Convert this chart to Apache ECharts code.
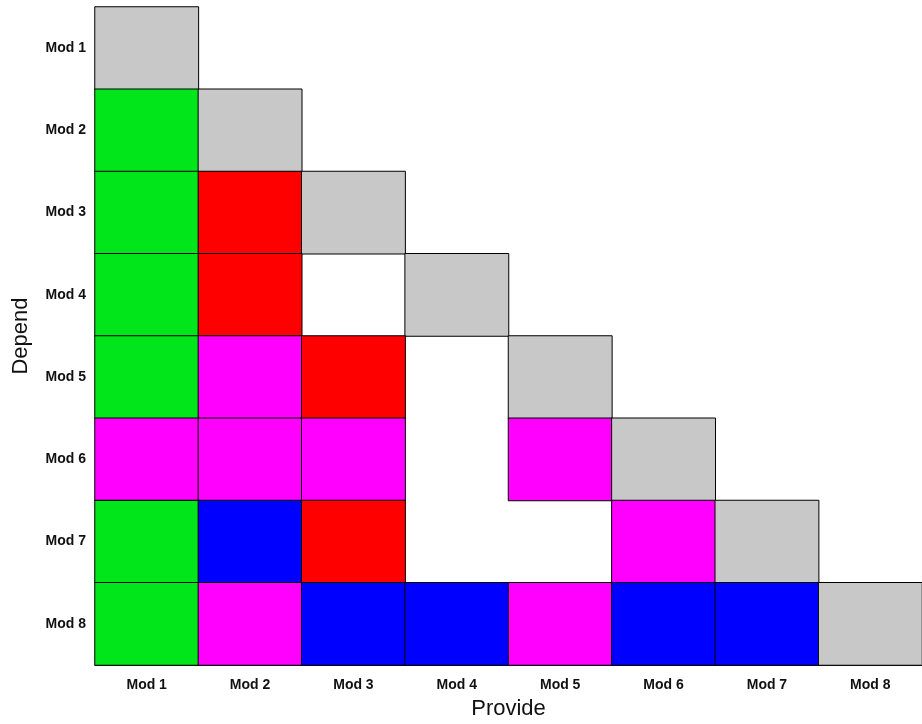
<!DOCTYPE html>
<html><head><meta charset="utf-8">
<script src="https://cdn.jsdelivr.net/npm/echarts@6/dist/echarts.min.js"></script>
<style>html,body{margin:0;padding:0;background:#fff}#c{width:922px;height:724px}</style>
</head><body><div id="c"></div>
<script>
const categories = ['Mod 1','Mod 2','Mod 3','Mod 4','Mod 5','Mod 6','Mod 7','Mod 8'];
// codes: 0 = self (grey), 1 = green, 2 = red, 3 = magenta, 4 = blue, null = none
const rowMod1 = [0];
const rowMod2 = [1,0];
const rowMod3 = [1,2,0];
const rowMod4 = [1,2,null,0];
const rowMod5 = [1,3,2,null,0];
const rowMod6 = [3,3,3,null,3,0];
const rowMod7 = [1,4,2,null,null,3,0];
const rowMod8 = [1,3,4,4,3,4,4,0];
const rows = [rowMod1,rowMod2,rowMod3,rowMod4,rowMod5,rowMod6,rowMod7,rowMod8];
const palette = ['#c8c8c8','#00e61a','#ff0000','#ff00ff','#0000ff'];

const data = [];
rows.forEach((r, yi) => r.forEach((v, xi) => { if (v !== null) data.push([xi, yi, v]); }));

const chart = echarts.init(document.getElementById('c'));
chart.setOption({
  animation: false,
  grid: { left: 95, top: 7, right: 0, bottom: 59, containLabel: false, outerBoundsMode: 'none' },
  xAxis: {
    type: 'category', data: categories,
    name: 'Provide', nameLocation: 'middle', nameGap: 33,
    nameTextStyle: { fontSize: 22, color: '#111', fontFamily: 'Liberation Sans' },
    axisLine: { show: true, lineStyle: { color: '#000' } },
    axisTick: { show: false },
    axisLabel: { fontSize: 14, fontWeight: 'bold', color: '#111', margin: 13, fontFamily: 'Liberation Sans' },
    splitLine: { show: false }
  },
  yAxis: {
    type: 'category', data: categories, inverse: true,
    name: 'Depend', nameLocation: 'middle', nameGap: 63, nameRotate: 90,
    nameTextStyle: { fontSize: 22, color: '#111', fontFamily: 'Liberation Sans' },
    axisLine: { show: true, lineStyle: { color: '#000' } },
    axisTick: { show: false },
    axisLabel: { fontSize: 14, fontWeight: 'bold', color: '#111', margin: 9, fontFamily: 'Liberation Sans' },
    splitLine: { show: false }
  },
  visualMap: {
    show: false, type: 'piecewise', dimension: 2,
    pieces: palette.map((c, i) => ({ value: i, color: c }))
  },
  series: [{
    type: 'heatmap', data: data,
    itemStyle: { borderColor: '#000', borderWidth: 1 },
    emphasis: { disabled: true }
  }]
});
</script></body></html>
